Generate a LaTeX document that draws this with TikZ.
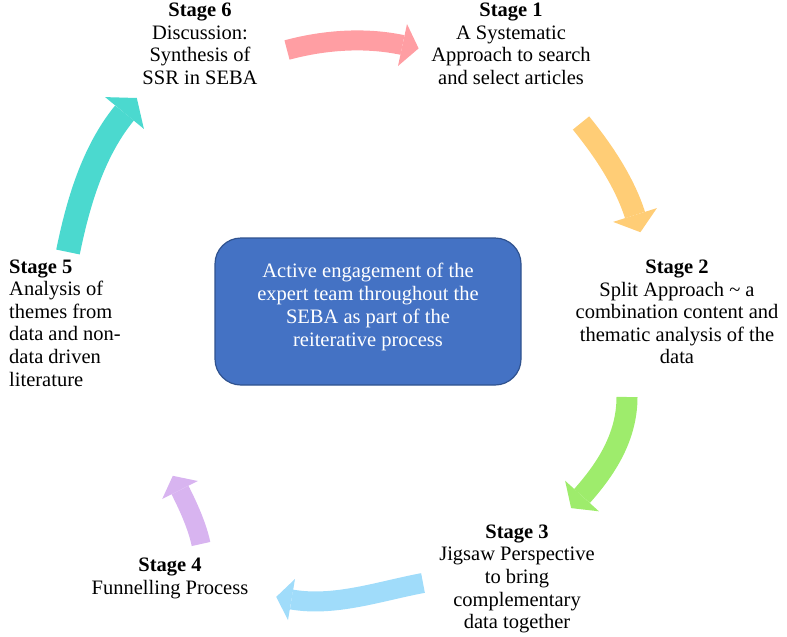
\documentclass[tikz,border=0pt]{standalone}
\usepackage{fontspec}
\setmainfont{Liberation Serif}
\definecolor{pinkarr}{RGB}{255,158,163}
\definecolor{orangearr}{RGB}{255,205,118}
\definecolor{greenarr}{RGB}{158,236,108}
\definecolor{bluearr}{RGB}{160,220,250}
\definecolor{purplearr}{RGB}{216,180,240}
\definecolor{tealarr}{RGB}{75,217,207}
\definecolor{boxfill}{RGB}{68,114,196}
\definecolor{boxline}{RGB}{47,82,143}
\tikzset{
  stagetxt/.style={align=center, inner sep=0pt, font=\fontsize{20.5pt}{22.6pt}\selectfont},
  boxtxt/.style={align=center, inner sep=0pt, text=white, font=\fontsize{20.5pt}{23.3pt}\selectfont},
  corebox/.style={draw=boxline, line width=1.2pt, fill=boxfill, rounded corners=26pt}
}
\begin{document}
\begin{tikzpicture}[x=1pt,y=-1pt]
\useasboundingbox (0,0) rectangle (787,637);
% centre box
\draw[corebox] (215,238) rectangle (521,385);
\node[boxtxt] (core) at (368,307) {Active engagement of the\\expert team throughout the\\SEBA as part of the\\reiterative process};
% stage texts
\node[stagetxt] (s6) at (200,44) {\textbf{Stage 6}\\Discussion:\\Synthesis of\\SSR in SEBA};
\node[stagetxt] (s1) at (511,44) {\textbf{Stage 1}\\A Systematic\\Approach to search\\and select articles};
\node[stagetxt] (s2) at (677,312) {\textbf{Stage 2}\\Split Approach \textasciitilde{} a\\combination content and\\thematic analysis of the\\data};
\node[stagetxt] (s3) at (517,579) {\textbf{Stage 3}\\Jigsaw Perspective\\to bring\\complementary\\data together};
\node[stagetxt] (s4) at (170,578.5) {\textbf{Stage 4}\\Funnelling Process};
\node[stagetxt, align=left, anchor=west] (s5) at (9,323) {\textbf{Stage 5}\\Analysis of\\themes from\\data and non-\\data driven\\literature};
% pink arrow (Stage 6 -> Stage 1)
\coordinate (pA) at (287,50); \coordinate (pB) at (402.5,45);
\draw[pinkarr, line width=20pt] (pA) .. controls (324,40) and (365,37) .. (pB);
\fill[pinkarr] (407,24) -- (418.6,48.4) -- (398,66) -- cycle;
% orange arrow (Stage 1 -> Stage 2)
\coordinate (oA) at (581,123); \coordinate (oB) at (635,215);
\draw[orangearr, line width=21pt] (oA) .. controls (603,150) and (624.5,182) .. (oB);
\fill[orangearr] (656.9,208.1) -- (640.4,232.2) -- (613.1,221.9) -- cycle;
% green arrow (Stage 2 -> Stage 3)
\coordinate (gA) at (627,397); \coordinate (gB) at (582,496);
\draw[greenarr, line width=21pt] (gA) .. controls (627,437) and (606,469) .. (gB);
\fill[greenarr] (598.9,511.3) -- (571.1,508.1) -- (565.1,480.7) -- cycle;
% blue arrow (Stage 3 -> Stage 4)
\coordinate (bA) at (423,583); \coordinate (bB) at (291.5,599.5);
\draw[bluearr, line width=20pt] (bA) .. controls (380,591) and (335,607) .. (bB);
\fill[bluearr] (295,579) -- (276.2,596.9) -- (288,620) -- cycle;
% purple arrow (Stage 4 -> Stage 5)
\coordinate (uA) at (201,544); \coordinate (uB) at (180,490);
\draw[purplearr, line width=19pt] (uA) .. controls (197.4,526.4) and (188.1,506) .. (uB);
\fill[purplearr] (197.8,481) -- (172.8,475.8) -- (162.2,499) -- cycle;
% teal arrow (Stage 5 -> Stage 6)
\coordinate (tA) at (68,252); \coordinate (tB) at (124.5,113);
\draw[tealarr, line width=24pt] (tA) .. controls (78,203) and (93,151.5) .. (tB);
\fill[tealarr] (143.9,128.9) -- (136.8,98) -- (105.1,97.1) -- cycle;
\end{tikzpicture}
\end{document}
